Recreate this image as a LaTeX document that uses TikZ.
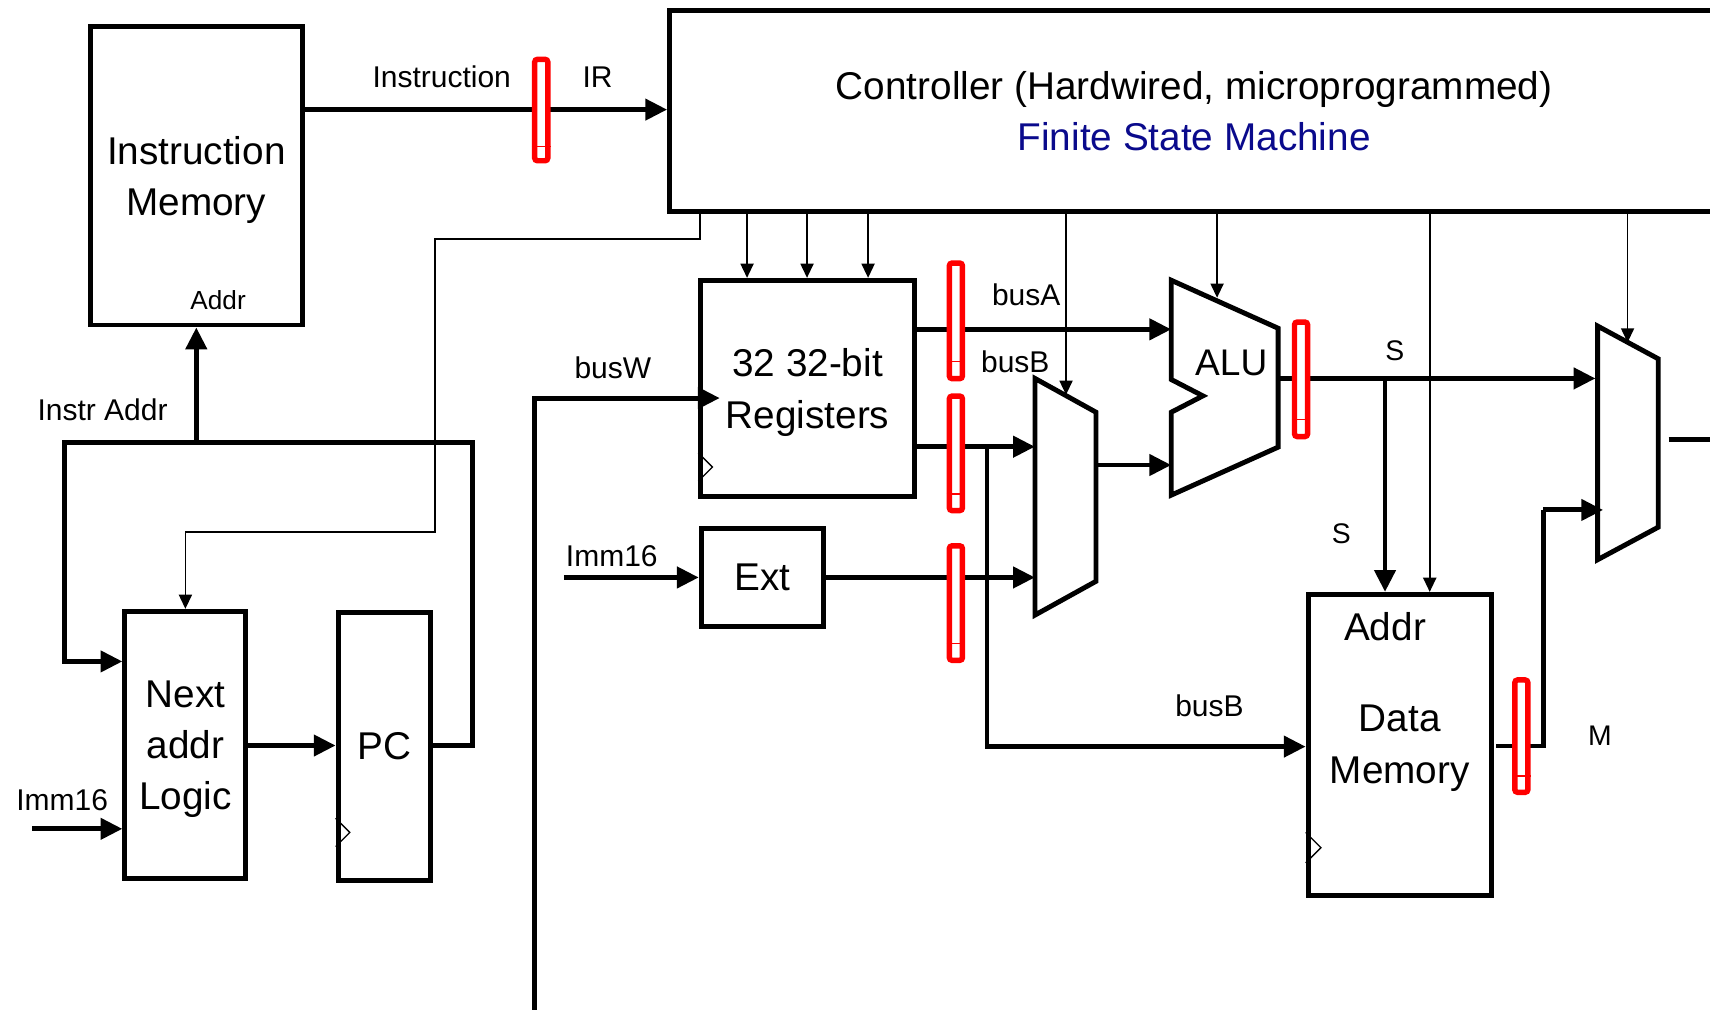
\documentclass[tikz,border=0pt]{standalone}
\usepackage{fontspec}
\setmainfont{Liberation Sans}
\usepackage{tikz}
\usetikzlibrary{arrows.meta}

\definecolor{fsmblue}{RGB}{10,10,140}

\tikzset{
  blk/.style={draw, line width=4.5pt, inner sep=0pt, align=center,
    font=\fontsize{35.5}{47}\selectfont},
  btxt/.style={inner sep=0pt, align=center, yshift=-4pt,
    font=\fontsize{35.5}{47}\selectfont},
  bus/.style={line width=4.5pt, -{Triangle[length=20pt,width=19pt]}},
  wire/.style={line width=4.5pt},
  ctl/.style={line width=1.5pt, -{Triangle[length=13pt,width=12pt]}},
  clk/.style={line width=1.2pt},
  pipe/.style={draw=red, line width=5pt, fill=white, rounded corners=2.5pt,
    minimum width=12pt, inner sep=0pt},
  lbl/.style={font=\fontsize{27.5}{33}\selectfont, inner sep=0pt},
  sml/.style={font=\fontsize{26}{31}\selectfont, inner sep=0pt},
}

% red pipeline register: name, x, y, height
\newcommand{\pipereg}[4]{%
  \node[pipe, minimum height=#4pt] (#1) at (#2,#3) {};
  \draw[red, line width=1.2pt] ([yshift=0.17*#4pt]#1.south west) -- ([yshift=0.17*#4pt]#1.south east);
}

\begin{document}
\begin{tikzpicture}[x=1pt,y=-1pt]
\useasboundingbox (0,0) rectangle (1568,926);

% blocks
\node[blk, minimum width=194pt, minimum height=274pt] (imem) at (180,161) {};
\node[btxt] (imemtxt) at (imem) {Instruction\\Memory};
\node[font=\fontsize{24}{29}\selectfont, inner sep=0pt] (imaddr) at (200,275) {Addr};
\node[blk, minimum width=962pt, minimum height=184pt] (ctrl) at (1095,102)
  {Controller (Hardwired, microprogrammed)\\\textcolor{fsmblue}{Finite State Machine}};
\node[blk, minimum width=196pt, minimum height=198pt] (regs) at (740.5,356) {};
\node[btxt] (regstxt) at (regs) {32 32-bit\\Registers};
\node[blk, minimum width=112pt, minimum height=90pt] (ext) at (699,529.5) {Ext};
\node[blk, minimum width=111pt, minimum height=245pt] (nal) at (170,683) {};
\node[btxt] (naltxt) at (nal) {Next\\addr\\Logic};
\node[blk, minimum width=85pt, minimum height=245pt] (pc) at (352.5,684.5) {PC};
\node[blk, minimum width=168pt, minimum height=276pt] (dmem) at (1283.5,683) {};
\node[btxt, yshift=1pt] (dmemtxt) at (dmem) {Data\\Memory};
\node[blk, draw=none] (dmaddr) at (1270,575) {Addr};

% clock marks
\draw[clk] ([yshift=42pt]regs.south west) -- ++(13,13) -- ++(-13,13);
\draw[clk] ([yshift=59pt]pc.south west) -- ++(13,13) -- ++(-13,13);
\draw[clk] ([yshift=60pt]dmem.south west) -- ++(14,14) -- ++(-14,14);

% muxes and alu
\coordinate (mba) at (949,409.6);
\coordinate (mbb) at (949,529.5);
\coordinate (mbo) at (1005,426.4);
\draw[line width=4.5pt] (949,347) -- (1005,378) -- (1005,533) -- (949,564) -- cycle;
\coordinate (alua) at (1074,302);
\coordinate (alub) at (1074,426.4);
\coordinate (aluo) at (1172,347);
\draw[line width=4.5pt] (1074,257) -- (1172,301) -- (1172,410) -- (1074,454) -- (1074,378)
  -- (1103,363) -- (1074,348) -- cycle;
\node[blk, draw=none, font=\fontsize{34}{40}\selectfont] (alutxt) at (1129,333) {ALU};
\coordinate (mra) at (1463,347);
\coordinate (mrb) at (1470,467.6);
\coordinate (mro) at (1530,402.7);
\draw[line width=4.5pt] (1465,299) -- (1520.5,329) -- (1520.5,483.4) -- (1465,513.2) -- cycle;

% fetch loop
\draw[bus] (pc.east |- 0,683.6) -| (433,406) -| (59,606.5) -- (nal.west |- 0,606.5);
\draw[bus] (imem.south |- 0,406) -- (imem.south);
\draw[bus] (nal.east |- 0,683.6) -- (pc.west |- 0,683.6);
\draw[bus] (29.5,760) -- (nal.west |- 0,760);
\draw[bus] (imem.east |- 0,100.5) -- (ctrl.west |- 0,100.5);

% control lines
\draw[ctl] (642,0 |- ctrl.south) -- (642,219) -| (399,488) -| (nal.north);
\foreach \cx in {685,740,796}
  \draw[ctl] (\cx,0 |- ctrl.south) -- (\cx,0 |- regs.north);
\draw[ctl] (977.5,0 |- ctrl.south) -- (977.5,362);
\draw[ctl] (1116,0 |- ctrl.south) -- (1116,273);
\draw[ctl] (1311,0 |- ctrl.south) -- (1311,0 |- dmem.north);
\draw[ctl] (1492.4,0 |- ctrl.south) -- (1492.4,314);

% datapath
\draw[bus] (490,930) |- (660,365);
\draw[bus] (517,529.5) -- (ext.west);
\draw[bus] (regs.east |- alua) -- (alua);
\draw[bus] (regs.east |- mba) -- (mba);
\draw[bus] (905,0 |- mba) |- (dmem.west |- 0,684.6);
\draw[bus] (ext.east) -- (mbb);
\draw[bus] (mbo) -- (alub);
\draw[bus] (aluo) -- (mra);
\draw[bus] (1270,0 |- aluo) -- (1270,0 |- dmem.north);
\draw[wire] (1372,684) -| (1415,467.6);
\draw[bus] (1415,467.6) -- (mrb);
\draw[wire] (mro) -- (1580,402.7);

% pipeline registers
\pipereg{irreg}{496.3}{100.9}{93}
\pipereg{pa}{876.5}{294.2}{106}
\pipereg{pb}{876.5}{415.7}{105}
\pipereg{pe}{876.5}{553}{105}
\pipereg{ps}{1193}{347.8}{105}
\pipereg{pm}{1395}{675}{103}

% labels
\node[lbl] (linstr) at (405,70) {Instruction};
\node[lbl] (lir) at (548,71) {IR};
\node[lbl] (liaddr) at (94,376) {Instr Addr};
\node[lbl] (lbusw) at (562,337) {busW};
\node[lbl] (limm) at (561,510) {Imm16};
\node[lbl] (limmb) at (57,734) {Imm16};
\node[lbl] (lbusa) at (941,270) {busA};
\node[lbl] (lbusb) at (931,332) {busB};
\node[lbl] (lbusbb) at (1109,647) {busB};
\node[sml] (ls) at (1279,322) {S};
\node[sml] (lsb) at (1230,489) {S};
\node[sml] (lm) at (1467,675) {M};
\end{tikzpicture}
\end{document}
